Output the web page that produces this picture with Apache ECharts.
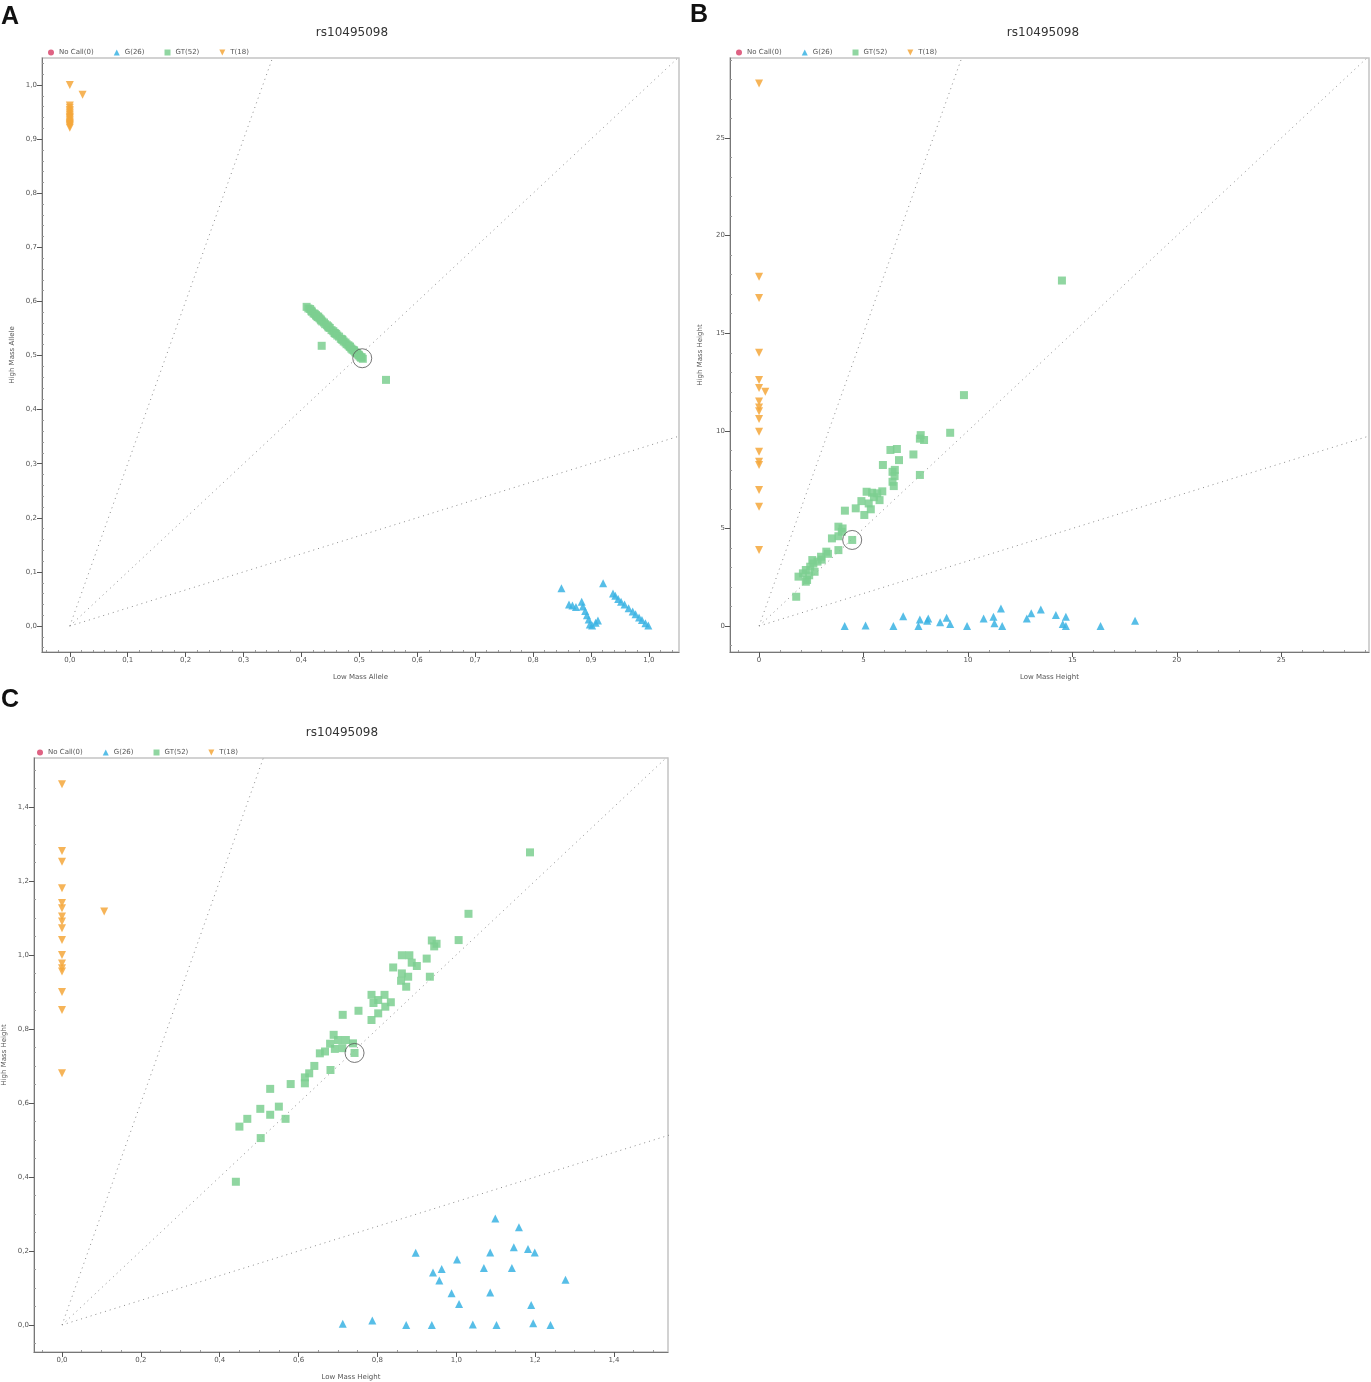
<!DOCTYPE html>
<html>
<head>
<meta charset="utf-8">
<script src="https://cdn.jsdelivr.net/npm/echarts@6/dist/echarts.min.js"></script>
<style>
html, body { margin: 0; padding: 0; background: #fff; }
#main { width: 1371px; height: 1382px; }
</style>
</head>
<body>
<div id="main"></div>
<script>
// series names and marker colours
var names = ['No Call(0)', 'G(26)', 'GT(52)', 'T(18)'];
var colors = ['#d9476d', '#3ab3e3', '#7dcf90', '#f4a73b'];
var tDown = 'path://M0,0L10,0L5,10Z';
var symbols = ['circle', 'triangle', 'rect', tDown];

// tick labels
var ticksA = [0, 0.1, 0.2, 0.3, 0.4, 0.5, 0.6, 0.7, 0.8, 0.9, 1.0];
var ticksB = [0, 5, 10, 15, 20, 25];
var ticksC = [0, 0.2, 0.4, 0.6, 0.8, 1.0, 1.2, 1.4];

// ---- A : allele fractions
var noCallA = [];
var gA = [[0.849,0.070],[0.862,0.040],[0.868,0.038],[0.874,0.035],[0.884,0.045],[0.886,0.036],[0.890,0.028],
  [0.893,0.020],[0.896,0.012],[0.898,0.003],[0.902,0.001],[0.908,0.006],[0.912,0.010],[0.921,0.079],
  [0.938,0.060],[0.942,0.056],[0.947,0.050],[0.952,0.045],[0.958,0.040],[0.965,0.033],[0.972,0.027],
  [0.977,0.022],[0.983,0.016],[0.988,0.011],[0.994,0.005],[0.999,0.001]];
var gtA = [[0.409,0.590],[0.412,0.587],[0.415,0.586],[0.418,0.581],[0.421,0.578],[0.423,0.577],[0.426,0.573],
  [0.428,0.571],[0.431,0.569],[0.434,0.565],[0.436,0.563],[0.439,0.561],[0.441,0.558],[0.444,0.556],
  [0.447,0.552],[0.449,0.551],[0.452,0.547],[0.455,0.545],[0.457,0.542],[0.460,0.540],[0.462,0.537],
  [0.465,0.535],[0.468,0.531],[0.470,0.530],[0.473,0.526],[0.476,0.524],[0.478,0.521],[0.481,0.519],
  [0.484,0.516],[0.486,0.513],[0.488,0.511],[0.491,0.509],[0.493,0.506],[0.496,0.504],[0.499,0.501],
  [0.501,0.498],[0.504,0.497],[0.506,0.494],[0.503,0.496],[0.498,0.502],[0.417,0.583],[0.425,0.575],
  [0.433,0.567],[0.446,0.554],[0.458,0.541],[0.471,0.529],[0.483,0.517],[0.495,0.505],[0.429,0.572],
  [0.490,0.510],[0.435,0.518],[0.546,0.455]];
var tA = [[0,1.0],[0.022,0.982],[0,0.962],[0,0.958],[0,0.954],[0,0.951],[0,0.948],[0,0.945],[0,0.942],
  [0,0.940],[0,0.938],[0,0.935],[0,0.932],[0,0.930],[0,0.928],[0,0.926],[0,0.924],[0,0.921]];
var hlA = [[0.505,0.495]];
var guideA = [[0.36,1.08],[1.1,1.1],[1.1,0.367]];

// ---- B : raw peak heights
var noCallB = [];
var gB = [[4.1,0],[5.1,0.03],[6.43,0],[6.9,0.5],[7.63,0],[7.7,0.34],[8.05,0.27],[8.1,0.39],[8.67,0.19],
  [8.98,0.43],[9.15,0.1],[9.96,0],[10.75,0.39],[11.22,0.48],[11.27,0.14],[11.58,0.9],[11.64,0],
  [12.82,0.39],[13.03,0.65],[13.49,0.85],[14.21,0.56],[14.54,0.1],[14.69,0.48],[14.69,0],[16.35,0],[18.0,0.27]];
var gtB = [[9.81,11.83],[9.15,9.9],[7.74,9.78],[7.9,9.53],[6.29,9.02],[6.6,9.07],[7.39,8.79],[6.7,8.5],
  [5.93,8.25],[6.39,7.9],[6.49,7.68],[7.7,7.74],[6.39,7.39],[6.45,7.17],[5.15,6.88],[5.41,6.83],
  [5.66,6.8],[5.77,6.45],[5.25,6.28],[5.35,5.98],[5.04,5.69],[4.63,6.03],[4.11,5.91],[3.8,5.09],
  [3.96,4.83],[3.49,4.49],[4.46,4.41],[3.8,3.89],[3.22,3.81],[2.97,3.55],[2.55,3.38],[2.45,3.04],
  [2.66,2.78],[2.24,2.87],[1.89,2.53],[2.3,2.36],[2.24,2.27],[1.78,1.5],[14.5,17.7],[2.6,3.2],
  [2.8,3.3],[3.0,3.4],[2.4,2.6],[2.1,2.7],[3.3,3.7],[3.8,4.6],[4.0,5.0],[5.5,6.6],[5.9,6.9],
  [6.5,8.0],[7.7,9.6],[4.9,6.4]];
var tB = [[0,27.8],[0,17.9],[0,16.8],[0,14.0],[0,12.6],[0,12.2],[0.3,12.0],[0,11.5],[0,11.2],[0,11.0],
  [0,10.6],[0,9.95],[0,8.93],[0,8.42],[0,8.25],[0,6.97],[0,6.11],[0,3.89]];
var hlB = [[4.46,4.41]];
var guideB = [[10,30],[30,30],[30,10]];

// ---- C : normalised heights
var noCallC = [];
var gC = [[1.099,0.288],[1.159,0.264],[0.897,0.195],[1.086,0.196],[1.146,0.21],[1.182,0.205],[1.199,0.196],
  [1.002,0.177],[0.941,0.142],[0.963,0.151],[1.07,0.154],[1.141,0.154],[0.957,0.12],[1.277,0.122],
  [0.988,0.086],[1.086,0.088],[1.007,0.057],[1.19,0.054],[0.712,0.003],[0.787,0.012],[0.873,0],
  [0.938,0],[1.042,0.001],[1.102,0],[1.195,0.005],[1.239,0]];
var gtC = [[1.187,1.277],[1.031,1.111],[0.938,1.039],[0.944,1.023],[1.006,1.04],[0.862,0.999],[0.881,0.999],
  [0.887,0.979],[0.925,0.99],[0.84,0.966],[0.862,0.95],[0.878,0.941],[0.933,0.941],[0.873,0.914],
  [0.785,0.892],[0.818,0.892],[0.802,0.878],[0.834,0.872],[0.802,0.842],[0.712,0.838],[0.752,0.849],
  [0.785,0.824],[0.689,0.784],[0.7,0.77],[0.711,0.748],[0.738,0.761],[0.667,0.739],[0.742,0.735],
  [0.654,0.734],[0.692,0.746],[0.681,0.689],[0.627,0.68],[0.616,0.669],[0.616,0.653],[0.58,0.651],
  [0.528,0.638],[0.55,0.59],[0.503,0.584],[0.528,0.568],[0.567,0.557],[0.47,0.557],[0.45,0.536],
  [0.504,0.505],[0.441,0.387],[0.79,0.87],[0.86,0.93],[0.72,0.77],[0.64,0.70],[0.90,0.97],
  [0.82,0.86],[0.68,0.76],[0.95,1.03]];
var tC = [[0,1.461],[0,1.281],[0,1.252],[0,1.18],[0,1.14],[0,1.126],[0,1.104],[0,1.09],[0,1.072],[0,1.04],
  [0,1.0],[0,0.977],[0,0.964],[0,0.955],[0,0.9],[0,0.851],[0.107,1.117],[0,0.68]];
var hlC = [[0.742,0.735]];
var guideC = [[0.53,1.59],[1.6,1.6],[1.6,0.533]];

function comma1(v) { return v.toFixed(1).replace('.', ','); }
function plain(v) { return String(v); }

var panels = [
  { grid: { left: 42, top: 58, width: 637, height: 594 }, x: [-0.048, 1.052], y: [-0.048, 1.05],
    ticks: ticksA, minor: 0.02, fmt: comma1, xName: 'Low Mass Allele', yName: 'High Mass Allele',
    data: [noCallA, gA, gtA, tA], guides: guideA, hl: hlA, title: [352, 33], letter: ['A', 1, 17], legend: [43, 44] },
  { grid: { left: 730, top: 58, width: 639, height: 594 }, x: [-1.39, 29.2], y: [-1.33, 29.1],
    ticks: ticksB, minor: 1, fmt: plain, xName: 'Low Mass Height', yName: 'High Mass Height',
    data: [noCallB, gB, gtB, tB], guides: guideB, hl: hlB, title: [1043, 33], letter: ['B', 690, 15], legend: [731, 44] },
  { grid: { left: 32, top: 758, width: 636, height: 594 }, x: [-0.071, 1.537], y: [-0.073, 1.532],
    ticks: ticksC, minor: 0.05, fmt: comma1, xName: 'Low Mass Height', yName: 'High Mass Height',
    data: [noCallC, gC, gtC, tC], guides: guideC, hl: hlC, title: [342, 733], letter: ['C', 1, 700], legend: [32, 744] }
];

function minorTicks(ext, step, major) {
  var out = [];
  var k0 = Math.ceil(ext[0] / step), k1 = Math.floor(ext[1] / step);
  for (var k = k0; k <= k1; k++) {
    var v = +(k * step).toFixed(4);
    if (major.indexOf(v) < 0) out.push(v);
  }
  return out;
}

var labelStyle = { fontSize: 7, color: '#555', fontFamily: 'DejaVu Sans' };
var grids = [], xAxes = [], yAxes = [], series = [], legends = [], graphics = [];

panels.forEach(function (p, i) {
  grids.push(Object.assign({ show: true, borderColor: '#c4c4c4', borderWidth: 1.5, backgroundColor: '#fff' }, p.grid));

  ['x', 'y'].forEach(function (d) {
    var ext = p[d];
    var main = {
      type: 'value', gridIndex: i, min: ext[0], max: ext[1],
      position: d === 'x' ? 'bottom' : 'left',
      name: d === 'x' ? p.xName : p.yName, nameLocation: 'middle',
      nameGap: d === 'x' ? 22 : 26, nameTextStyle: labelStyle,
      axisLine: { show: true, onZero: false, lineStyle: { color: '#777', width: 1 } },
      axisTick: { show: true, length: 5, customValues: p.ticks, lineStyle: { color: '#555' } },
      axisLabel: { customValues: p.ticks, formatter: p.fmt, margin: 5, fontSize: 7, color: '#555', fontFamily: 'DejaVu Sans' },
      splitLine: { show: false }
    };
    var minor = {
      type: 'value', gridIndex: i, min: ext[0], max: ext[1],
      position: d === 'x' ? 'bottom' : 'left',
      axisLine: { show: false, onZero: false },
      axisTick: { show: true, length: 2, inside: true, customValues: minorTicks(ext, p.minor, p.ticks), lineStyle: { color: '#999' } },
      axisLabel: { show: false },
      splitLine: { show: false }
    };
    (d === 'x' ? xAxes : yAxes).push(main, minor);
  });

  names.forEach(function (n, k) {
    series.push({
      name: n, type: 'scatter', xAxisIndex: 2 * i, yAxisIndex: 2 * i,
      data: p.data[k], symbol: symbols[k], symbolSize: 8, z: 3,
      itemStyle: { color: colors[k], opacity: 0.85 }
    });
  });

  p.guides.forEach(function (g) {
    series.push({
      type: 'line', xAxisIndex: 2 * i, yAxisIndex: 2 * i, data: [[0, 0], g],
      symbol: 'none', silent: true, z: 1, clip: true,
      lineStyle: { color: '#8a8a8a', width: 1, type: [1, 4] }
    });
  });

  series.push({
    type: 'scatter', xAxisIndex: 2 * i, yAxisIndex: 2 * i, data: p.hl,
    symbol: 'circle', symbolSize: 19, silent: true, z: 4,
    itemStyle: { color: 'rgba(0,0,0,0)', borderColor: '#555', borderWidth: 1 }
  });

  legends.push({
    left: p.legend[0], top: p.legend[1], itemWidth: 6, itemHeight: 6, itemGap: 20,
    textStyle: { fontSize: 7, color: '#555', fontFamily: 'DejaVu Sans' },
    data: names.map(function (n, k) { return { name: n, icon: symbols[k] }; })
  });

  graphics.push({
    type: 'text', x: p.title[0], y: p.title[1],
    style: { text: 'rs10495098', fontSize: 12, fill: '#333', fontFamily: 'DejaVu Sans', align: 'center', verticalAlign: 'middle' }
  });
  graphics.push({
    type: 'text', x: p.letter[1], y: p.letter[2],
    style: { text: p.letter[0], fontSize: 25, fontWeight: 'bold', fill: '#111', fontFamily: 'Liberation Sans', align: 'left', verticalAlign: 'middle' }
  });
});

var myChart = echarts.init(document.getElementById('main'));
var option = {
  animation: false,
  backgroundColor: '#fff',
  grid: grids,
  xAxis: xAxes,
  yAxis: yAxes,
  legend: legends,
  graphic: graphics,
  series: series
};
myChart.setOption(option);
</script>
</body>
</html>
